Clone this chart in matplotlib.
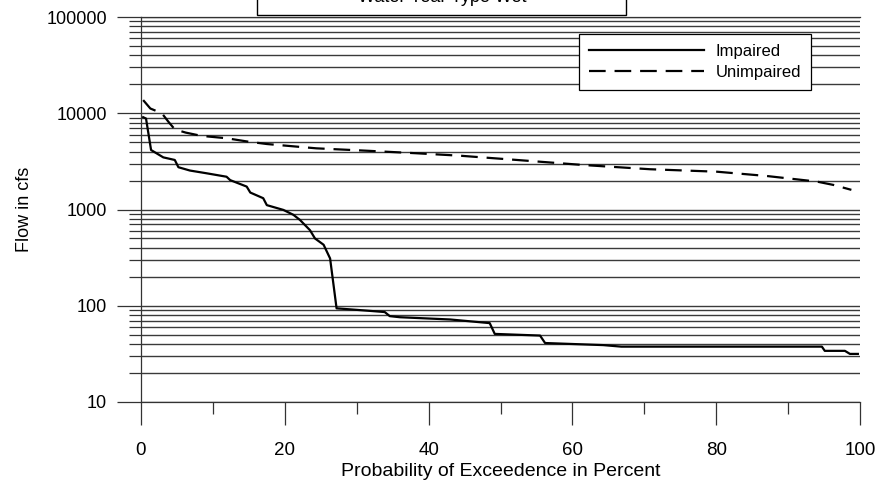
import matplotlib
matplotlib.use("Agg")
import matplotlib.pyplot as plt
from matplotlib.patches import Rectangle
from matplotlib.ticker import LogLocator, NullFormatter, MultipleLocator

# Datos (porcentaje de excedencia, caudal en cfs)
impaired_pct = [0.3, 0.7, 1.4, 3.1, 4.7, 5.2, 6.8, 9.1, 11.9, 12.4, 14.7, 15.2,
                17.0, 17.5, 19.8, 21.2, 22.1, 23.5, 24.2, 25.4, 26.3, 27.2, 31.4,
                33.9, 34.6, 36.0, 43.0, 48.5, 49.2, 55.5, 56.2, 64.3, 66.8, 94.7,
                95.1, 97.9, 98.6, 99.7]
impaired_cfs = [9100, 8800, 4150, 3480, 3270, 2750, 2540, 2380, 2190, 2020, 1730, 1500,
                1310, 1110, 990, 880, 780, 610, 500, 430, 310, 94, 89,
                86, 78, 76, 72, 66, 51, 49, 41, 39, 37.6, 37.6,
                34, 34, 31.6, 31.6]

unimpaired_pct = [0.3, 1.3, 2.9, 3.8, 4.7, 6.2, 8.4, 11.9, 14.9, 17.5, 24.4, 31.4,
                  38.3, 44.4, 52.3, 61.5, 70.8, 80.1, 87.0, 94.0, 96.3, 98.8]
unimpaired_cfs = [13700, 11200, 10000, 8180, 6800, 6300, 5820, 5500, 5070, 4790, 4320, 4080,
                  3840, 3620, 3270, 2900, 2620, 2470, 2230, 1950, 1800, 1600]

plt.rcParams['font.family'] = ['Liberation Sans', 'DejaVu Sans']

fig = plt.figure(figsize=(8.8, 4.87), dpi=100)
W, H = 880, 487
ax = fig.add_axes([141 / W, 1 - 402 / H, (860 - 141) / W, (402 - 17) / H])

ax.plot(impaired_pct, impaired_cfs, color='black', lw=1.6, label='Impaired')
ax.plot(unimpaired_pct, unimpaired_cfs, color='black', lw=1.6, dashes=(7.5, 4), label='Unimpaired')

ax.set_yscale('log')
ax.set_ylim(10, 100000)
ax.set_xlim(0, 100)

ax.yaxis.set_major_locator(LogLocator(base=10))
ax.yaxis.set_minor_locator(LogLocator(base=10, subs=range(2, 10)))
ax.yaxis.set_minor_formatter(NullFormatter())
ax.set_yticks([10, 100, 1000, 10000, 100000])
ax.set_yticklabels(['10', '100', '1000', '10000', '100000'])
ax.xaxis.set_major_locator(MultipleLocator(20))
ax.xaxis.set_minor_locator(MultipleLocator(10))

ax.grid(True, which='both', axis='y', color='#3a3a3a', lw=1.0)
ax.set_axisbelow(True)

ax.spines['right'].set_visible(False)
for s in ['left', 'top', 'bottom']:
    ax.spines[s].set_color('#333333')
    ax.spines[s].set_linewidth(0.9)

ax.tick_params(axis='y', which='major', direction='out', length=17.3, width=0.9,
               color='#333333', labelsize=13, pad=7)
ax.tick_params(axis='y', which='minor', direction='out', length=8.6, width=0.9, color='#333333')
ax.tick_params(axis='x', which='major', direction='out', length=16.6, width=0.9,
               color='#333333', labelsize=13.5, pad=12)
ax.tick_params(axis='x', which='minor', direction='out', length=8.6, width=0.9, color='#333333')

ax.set_xlabel('Probability of Exceedence in Percent', fontsize=14, labelpad=3)
ax.set_ylabel('Flow in cfs', fontsize=13, labelpad=10)

leg = ax.legend(loc='upper right', bbox_to_anchor=(811 / W, 1 - 34 / H),
                bbox_transform=fig.transFigure, fontsize=12, handlelength=6.9,
                handletextpad=0.7, labelspacing=0.35, borderaxespad=0,
                fancybox=False, framealpha=1, edgecolor='black', borderpad=0.6)
leg.get_frame().set_linewidth(0.9)

# Caja del titulo, cortada arriba
fig.patches.append(Rectangle((257 / W, 1 - 15 / H), (626 - 257) / W, 40 / H,
                             transform=fig.transFigure, facecolor='white',
                             edgecolor='black', lw=1, zorder=5))
fig.text(442 / W, 1 - 2 / H, 'Water Year Type Wet', ha='center', va='baseline',
         fontsize=13, zorder=6)

fig.savefig('out.png', dpi=100)
